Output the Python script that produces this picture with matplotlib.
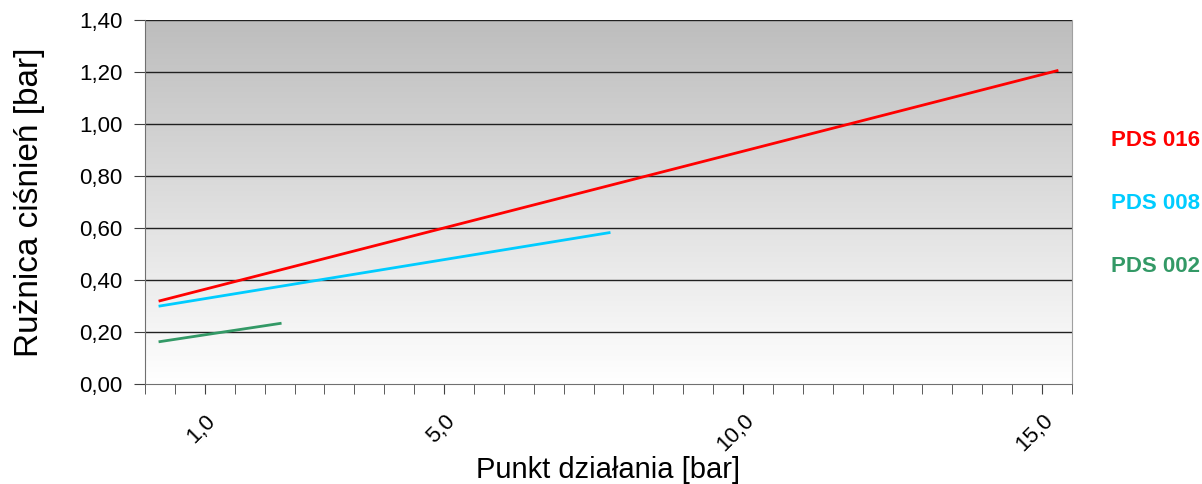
import numpy as np
import matplotlib
matplotlib.use('Agg')
import matplotlib.pyplot as plt
from matplotlib.ticker import MultipleLocator, FixedLocator, FixedFormatter

plt.rcParams['font.family'] = ['Liberation Sans', 'DejaVu Sans']

# poczatek i koniec kazdej prostej
pds016_x = [0.25, 15.25]
pds016_y = [0.32, 1.205]
pds008_x = [0.25, 7.76]
pds008_y = [0.30, 0.582]
pds002_x = [0.25, 2.26]
pds002_y = [0.163, 0.233]

series_names = ['PDS 016', 'PDS 008', 'PDS 002']
series_colors = ['#ff0000', '#00ccff', '#339966']

x_labels_pos = [1.0, 5.0, 10.0, 15.0]
x_labels = ['1,0', '5,0', '10,0', '15,0']
y_ticks = [0.0, 0.2, 0.4, 0.6, 0.8, 1.0, 1.2, 1.4]
y_labels = ['0,00', '0,20', '0,40', '0,60', '0,80', '1,00', '1,20', '1,40']

fig = plt.figure(figsize=(12.02, 4.84), dpi=100)
ax = fig.add_axes([145 / 1202, 100 / 484, 927 / 1202, 364 / 484])

# tlo z gradientem (szary u gory, bialy na dole)
grad = np.linspace(0, 1, 256).reshape(-1, 1)
cmap = matplotlib.colors.LinearSegmentedColormap.from_list('g', ['#ffffff', '#bdbdbd'])
ax.imshow(grad, extent=[0, 15.5, 0, 1.4], origin='lower', aspect='auto', cmap=cmap, zorder=0)

for v in y_ticks[1:]:
    ax.axhline(v, color='#202020', lw=1.0, zorder=1)

ax.plot(pds016_x, pds016_y, color=series_colors[0], lw=2, zorder=3)
ax.plot(pds008_x, pds008_y, color=series_colors[1], lw=2, zorder=3)
ax.plot(pds002_x, pds002_y, color=series_colors[2], lw=2, zorder=3)

ax.set_xlim(0, 15.5)
ax.set_ylim(0, 1.4)

ax.xaxis.set_minor_locator(MultipleLocator(0.5))
ax.xaxis.set_major_locator(FixedLocator(x_labels_pos))
ax.xaxis.set_major_formatter(FixedFormatter(x_labels))
ax.set_yticks(y_ticks)
ax.set_yticklabels(y_labels)

ax.tick_params(axis='x', which='both', length=7, color='#404040', direction='out')
ax.tick_params(axis='x', which='major', labelsize=16, pad=12)
ax.tick_params(axis='y', length=8, color='#404040', labelsize=16, pad=8)
for lbl in ax.get_xticklabels():
    lbl.set_rotation(45)
    lbl.set_ha('right')
    lbl.set_va('top')
    lbl.set_rotation_mode('anchor')

for s in ['left', 'bottom']:
    ax.spines[s].set_color('#707070')
ax.spines['right'].set_color('#a0a0a0')
ax.spines['top'].set_visible(False)

ax.set_ylabel('Rużnica ciśnień [bar]', fontsize=24)
ax.yaxis.set_label_coords(-0.108, 0.5)
ax.set_xlabel('Punkt działania [bar]', fontsize=21)
ax.xaxis.set_label_coords(0.5, -0.198)

for name, col, yy in zip(series_names, series_colors, [141, 204, 267]):
    fig.text(1111 / 1202, 1 - yy / 484, name, color=col, fontsize=16,
             fontweight='bold', va='center', ha='left')

fig.savefig('out.png', dpi=100)
